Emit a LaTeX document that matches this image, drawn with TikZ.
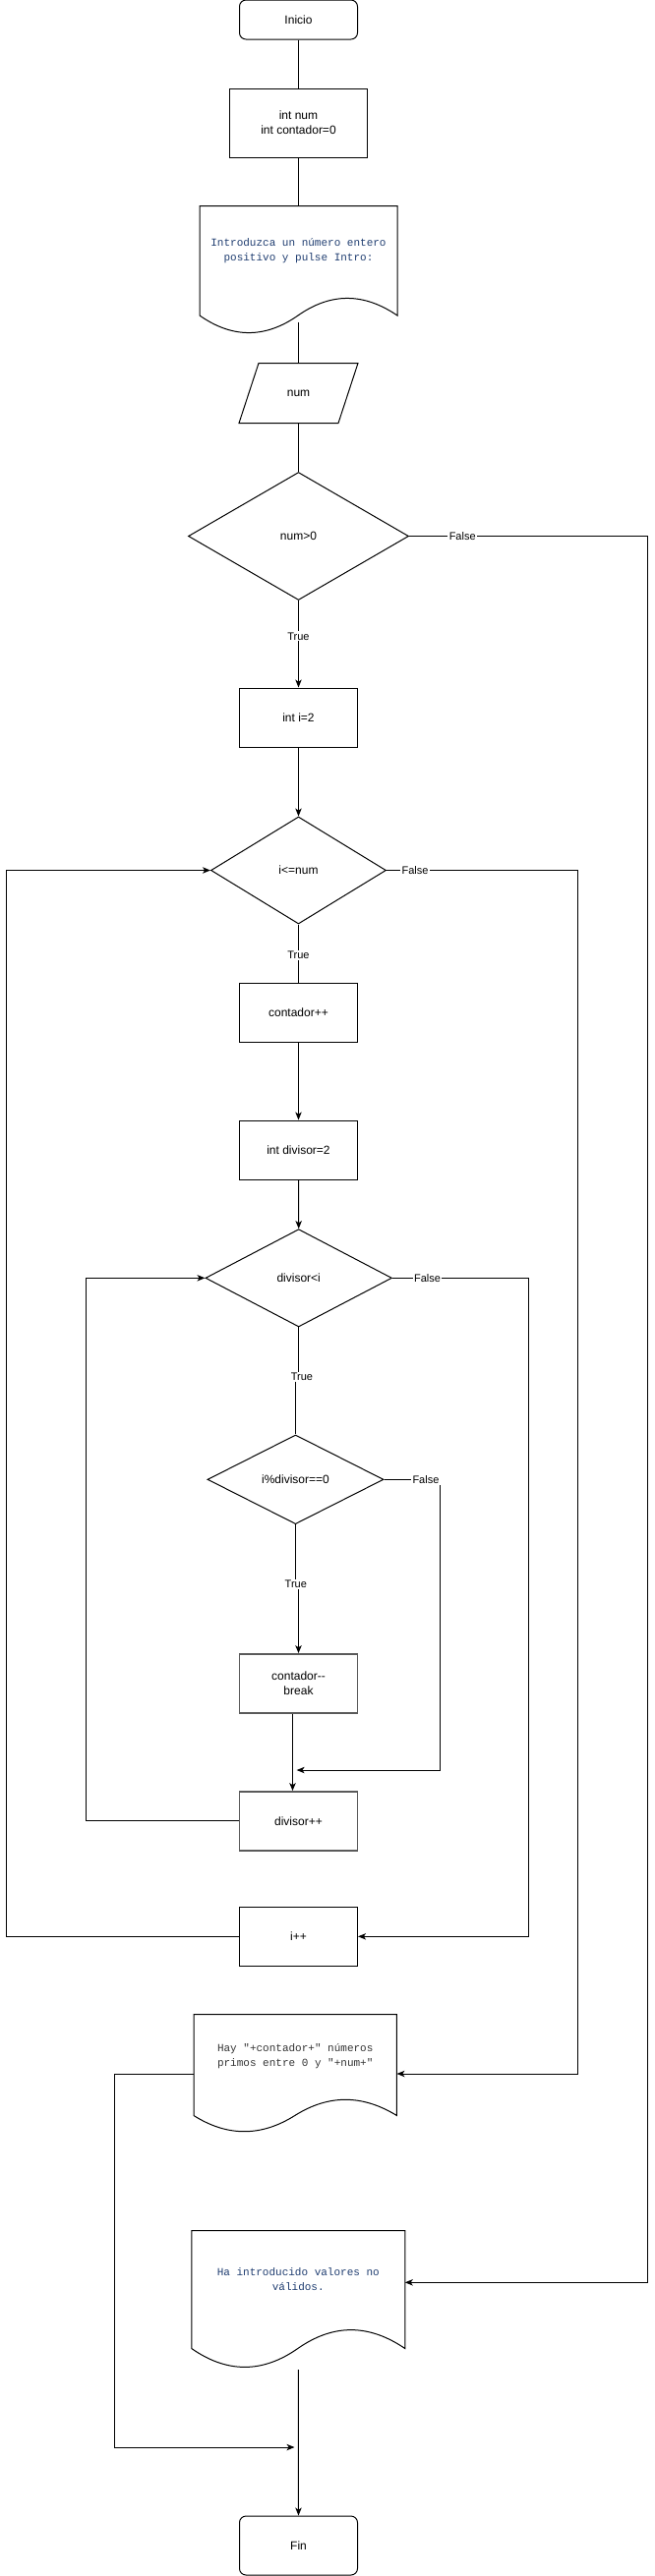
\documentclass[tikz,border=0pt]{standalone}
\usepackage{fontspec}
\setmainfont{Liberation Sans}
\newfontfamily\codefont{Liberation Mono}
\usetikzlibrary{shapes.geometric,arrows.meta,calc}
\definecolor{codeblue}{HTML}{1F3D70}
\definecolor{codegray}{HTML}{333333}
\definecolor{boxgray}{HTML}{5A5A5A}
% #1 node name, #2 width (px), #3 wave height dy (px), #4 style
\newcommand{\docoutline}[4]{%
  \draw[#4] (#1.north west) -- (#1.north east) -- ($(#1.south east)+(0,#3/2)$)
    .. controls ($(#1.south west)+(5*#2/6,-0.1*#3)$) and ($(#1.south west)+(2*#2/3,-0.1*#3)$) .. ($(#1.south west)+(#2/2,#3/2)$)
    .. controls ($(#1.south west)+(#2/3,1.1*#3)$) and ($(#1.south west)+(#2/6,1.1*#3)$) .. ($(#1.south west)+(0,#3/2)$) -- cycle;}
\begin{document}
\begin{tikzpicture}[x=0.75pt,y=-0.75pt,line width=0.75pt,
  base/.style={inner sep=0pt, font=\fontsize{9}{11.25}\selectfont, align=center},
  procbox/.style={base, draw, rectangle, minimum width=90pt, minimum height=45pt},
  graybox/.style={procbox, draw=boxgray, line width=1.1pt},
  termbox/.style={procbox, rounded corners=5pt},
  decision/.style={base, draw, diamond, aspect=1},
  docnode/.style={base, rectangle, font=\codefont\fontsize{8.25}{11.25}\selectfont},
  lbl/.style={fill=white, inner sep=1pt, font=\fontsize{8.25}{10}\selectfont},
  flow/.style={draw, -{Stealth[length=6pt,width=4.8pt,inset=1.6pt]}},
  link/.style={draw}]
\useasboundingbox (0,0) rectangle (666,2621);

% nodes
\node[termbox, minimum height=30pt] (inicio) at (303.5,20) {Inicio};
\node[procbox, minimum width=105pt, minimum height=52.5pt] (vars) at (303.5,125) {int num\\int contador=0};
\node[docnode, text=codeblue, minimum width=150pt, minimum height=68.25pt] (doc1) at (303.5,255.5) {Introduzca un número entero\\positivo y pulse Intro:};
\node[base, rectangle, minimum width=75pt, minimum height=45pt] (numin) at (303.5,400) {num};
\node[decision, minimum width=168pt, minimum height=97.5pt] (d1) at (303.5,545.5) {num>0};
\node[procbox] (bi2) at (303.5,730) {int i=2};
\node[decision, minimum width=133.5pt, minimum height=81.75pt] (d2) at (303.5,885.5) {i<=num};
\node[procbox] (cont) at (303.5,1030) {contador++};
\node[procbox] (idiv) at (303.5,1170) {int divisor=2};
\node[decision, minimum width=142.1pt, minimum height=74.5pt] (d3) at (303.7,1300.3) {divisor<i};
\node[decision, minimum width=134.25pt, minimum height=68pt] (d4) at (300.5,1505.3) {i\%divisor==0};
\node[graybox] (contb) at (303.5,1712.8) {contador-{}-\\break};
\node[graybox] (divpp) at (303.5,1852.8) {divisor++};
\node[procbox] (ipp) at (303.5,1970.3) {i++};
\node[docnode, text=codegray, minimum width=154.1pt, minimum height=63pt] (doc2) at (300.25,2092) {Hay "+contador+" números\\primos entre 0 y "+num+"};
\node[docnode, text=codeblue, minimum width=162pt, minimum height=73.5pt] (doc3) at (303.3,2319) {Ha introducido valores no\\válidos.};
\node[termbox] (fin) at (303.5,2590) {Fin};

% shapes drawn by outline
\docoutline{doc1}{200}{39}{draw=black}
\docoutline{doc2}{205.5}{36}{draw=black}
\docoutline{doc3}{216}{42}{draw=black}
\draw ($(numin.north west)+(10,0)$) -- ($(numin.north east)+(10,0)$) -- ($(numin.south east)+(-10,0)$) -- ($(numin.south west)+(-10,0)$) -- cycle;

% free ends
\coordinate (c14end) at (301.6,1801);
\coordinate (c19end) at (299.5,2490);

% connectors
\draw[link] (inicio.south) -- (vars.north);
\draw[link] (vars.south) -- (doc1.north);
\draw[link] ($(doc1.south)+(0,26)$) -- (numin.north);
\draw[link] (numin.south) -- (d1.north);
\draw[flow] (d1.south) -- node[lbl, pos=0.41] (t1) {True} (bi2.north);
\draw[flow] (d1.east) -- node[lbl, pos=0.224] (f1) {False} ++(242,0) |- ($(doc3.east)+(0,3.3)$);
\draw[flow] (bi2.south) -- (d2.north);
\draw[link] (d2.south) -- node[lbl, pos=0.53] (t2) {True} (cont.north);
\draw[flow] (d2.east) -- node[lbl, pos=0.149] (f2) {False} ++(194.5,0) |- ($(doc2.east)+(0,18)$);
\draw[flow] (cont.south) -- (idiv.north);
\draw[flow] (idiv.south) -- (d3.north);
\draw[link] (d3.south) -- (303.7,1401) -| (d4.north);
\node[lbl] (t3) at (307,1401) {True};
\draw[flow] (d3.east) -- node[lbl, pos=0.256] (f3) {False} ++(139,0) |- (ipp.east);
\draw[flow] (d4.east) -- node[lbl, pos=0.745] (f4) {False} ++(57,0) |- (c14end);
\draw[flow] (d4.south) -- (300.5,1611.7) -| (contb.north);
\node[lbl] (t4) at (300.8,1611.7) {True};
\draw[flow] ($(contb.south)+(-6,0)$) -- ($(divpp.north)+(-6,0)$);
\draw[flow] (divpp.west) -- ++(-155.5,0) |- (d3.west);
\draw[flow] (ipp.west) -- ++(-236.3,0) |- (d2.west);
\draw[flow] ($(doc2.west)+(0,18)$) -- ++(-80.3,0) |- (c19end);
\draw[flow] ($(doc3.south)+(0,42.7)$) -- (fin.north);
\end{tikzpicture}
\end{document}
